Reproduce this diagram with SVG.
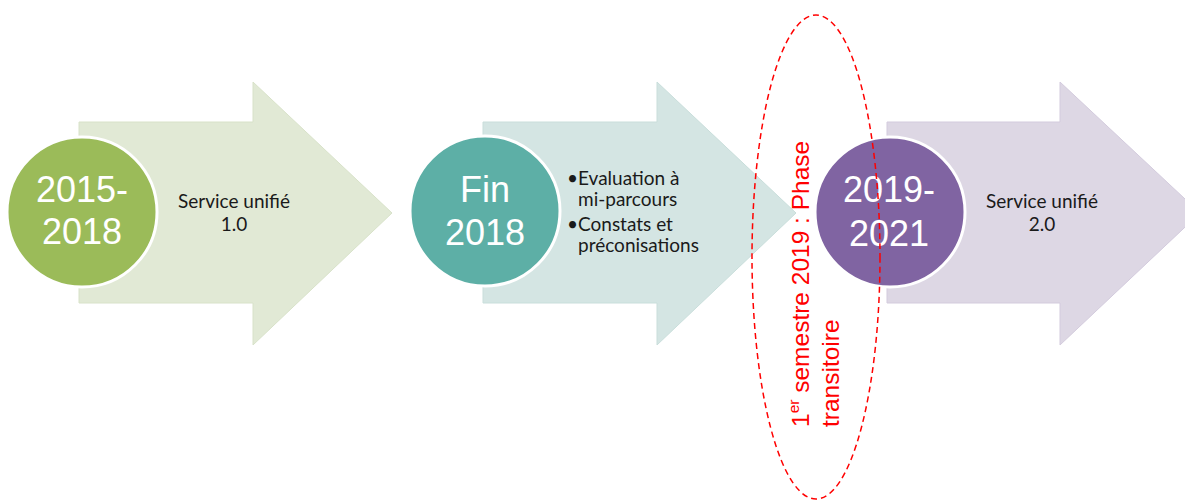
<svg xmlns="http://www.w3.org/2000/svg" width="1185" height="501" viewBox="0 0 1185 501">
<style>
.yr{font-family:"Liberation Sans",Arial,sans-serif;font-size:36px;fill:#fff;text-anchor:middle}
.lbl{font-family:Lato,"Open Sans",sans-serif;font-size:19px;fill:#1a1a1a}
.ctr{text-anchor:middle}
.circ{stroke:#fff;stroke-width:3}
.red{font-family:"Liberation Sans",Arial,sans-serif;font-size:24.5px;fill:#ff0000}
</style>
<rect width="1185" height="501" fill="#fff"/>
<g id="node1">
<polygon points="79,122 253,122 253,82 392,213 253,345 253,303 79,303" fill="#e1e9d5" stroke="#d8e2c9" stroke-width="1"/>
<circle class="circ" cx="82" cy="212" r="75" fill="#9bbb59"/>
<text class="yr" x="82" y="202">2015-<tspan x="82" dy="42">2018</tspan></text>
<text class="lbl ctr" x="234" y="208">Service unifié<tspan x="234" dy="23">1.0</tspan></text>
</g>
<g id="node2">
<polygon points="483,122 657,122 657,82 796,213 657,345 657,303 483,303" fill="#d4e5e3" stroke="#c9dedb" stroke-width="1"/>
<circle class="circ" cx="485" cy="211" r="75" fill="#5dafa6"/>
<text class="yr" x="485" y="202">Fin<tspan x="485" dy="43">2018</tspan></text>
<text class="lbl" x="567" y="185">•<tspan x="578">Evaluation à</tspan><tspan x="578" dy="21">mi-parcours</tspan><tspan x="567" dy="25">•</tspan><tspan x="578">Constats et</tspan><tspan x="578" dy="21">préconisations</tspan></text>
</g>
<g id="node3">
<polygon points="887,122 1060,122 1060,82 1200,213 1060,345 1060,303 887,303" fill="#ddd7e4" stroke="#d3cbdd" stroke-width="1"/>
<circle class="circ" cx="890" cy="212" r="75" fill="#8064a2"/>
<text class="yr" x="889" y="202">2019-<tspan x="889" dy="44">2021</tspan></text>
<text class="lbl ctr" x="1042" y="208">Service unifié<tspan x="1042" dy="23">2.0</tspan></text>
</g>
<g id="phase">
<ellipse cx="816" cy="257" rx="64" ry="242" fill="none" stroke="#ff0000" stroke-width="1.5" stroke-dasharray="6,4"/>
<text class="red" transform="translate(809,427) rotate(-90)">1<tspan font-size="15.5" dy="-10">er</tspan><tspan dy="10"> semestre 2019 : Phase</tspan></text>
<text class="red" transform="translate(839,427) rotate(-90)">transitoire</text>
</g>
</svg>
